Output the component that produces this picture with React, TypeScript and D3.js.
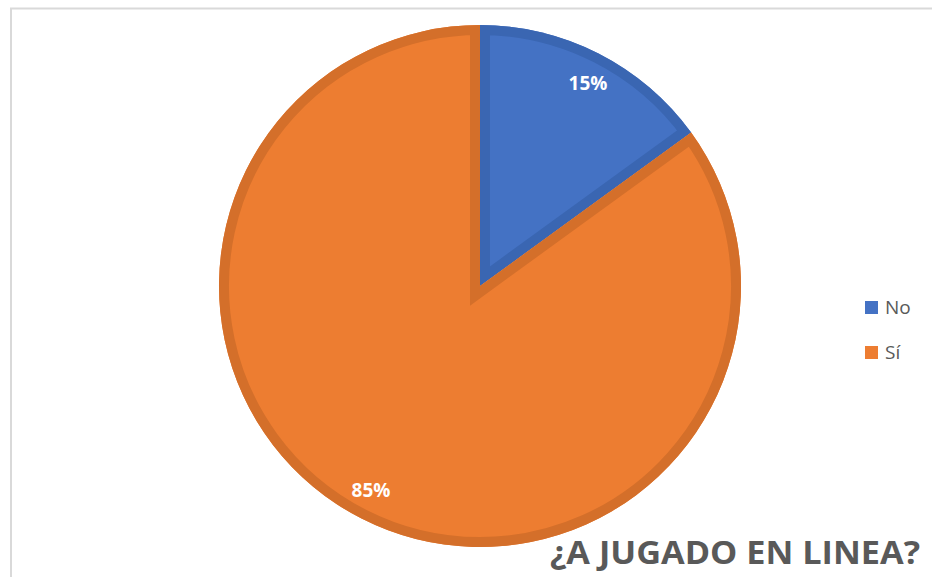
import React from "react";
import * as d3 from "d3";

const categories = ["No", "Sí"];
const values = [15, 85];
const labels = ["15%", "85%"];
const fills = ["#4472C4", "#ED7D31"];
const strokes = ["#3A66B2", "#D46F2A"];
const title = "¿A JUGADO EN LINEA?";

const W = 932;
const H = 577;
const cx = 480;
const cy = 286;
const R = 261;

export default function App() {
  const pie = d3.pie<number>().sort(null).value((d) => d);
  const arcs = pie(values);
  const arcGen = d3.arc<d3.PieArcDatum<number>>().innerRadius(0).outerRadius(R);
  const labelPos = [
    [108, -196],
    [-109, 211],
  ];
  return (
    <svg
      width={W}
      height={H}
      style={{ position: "absolute", left: 0, top: 0 }}
    >
      <rect x={0} y={0} width={W} height={H} fill="#ffffff" />
      <rect x={11} y={8.5} width={W + 20} height={H + 20} fill="none" stroke="#d9d9d9" strokeWidth={2} />
      <defs>
        {arcs.map((a, i) => (
          <clipPath id={`clip${i}`} key={i}>
            <path d={arcGen(a) || ""} />
          </clipPath>
        ))}
      </defs>
      <g transform={`translate(${cx},${cy})`}>
        {arcs.map((a, i) => (
          <g key={i}>
            <path d={arcGen(a) || ""} fill={fills[i]} />
            <path
              d={arcGen(a) || ""}
              fill="none"
              stroke={strokes[i]}
              strokeWidth={20}
              strokeLinejoin="miter"
              strokeMiterlimit={10}
              clipPath={`url(#clip${i})`}
            />
          </g>
        ))}
        {arcs.map((a, i) => (
          <text
            key={i}
            x={labelPos[i][0]}
            y={labelPos[i][1]}
            textAnchor="middle"
            fill="#ffffff"
            fontFamily="'Open Sans', sans-serif"
            fontWeight={700}
            fontSize={19}
          >
            {labels[i]}
          </text>
        ))}
      </g>
      {categories.map((c, i) => (
        <g key={c} transform={`translate(865,${301 + i * 45})`}>
          <rect x={0} y={0} width={13} height={13} fill={fills[i]} />
          <text
            x={20}
            y={13}
            fill="#595959"
            fontFamily="'Open Sans', sans-serif"
            fontSize={19}
          >
            {c}
          </text>
        </g>
      ))}
      <text
        x={920}
        y={564}
        textAnchor="end"
        fill="#595959"
        fontFamily="'Open Sans', sans-serif"
        fontWeight={700}
        fontSize={33}
        textLength={370}
        lengthAdjust="spacingAndGlyphs"
      >
        {title}
      </text>
    </svg>
  );
}
